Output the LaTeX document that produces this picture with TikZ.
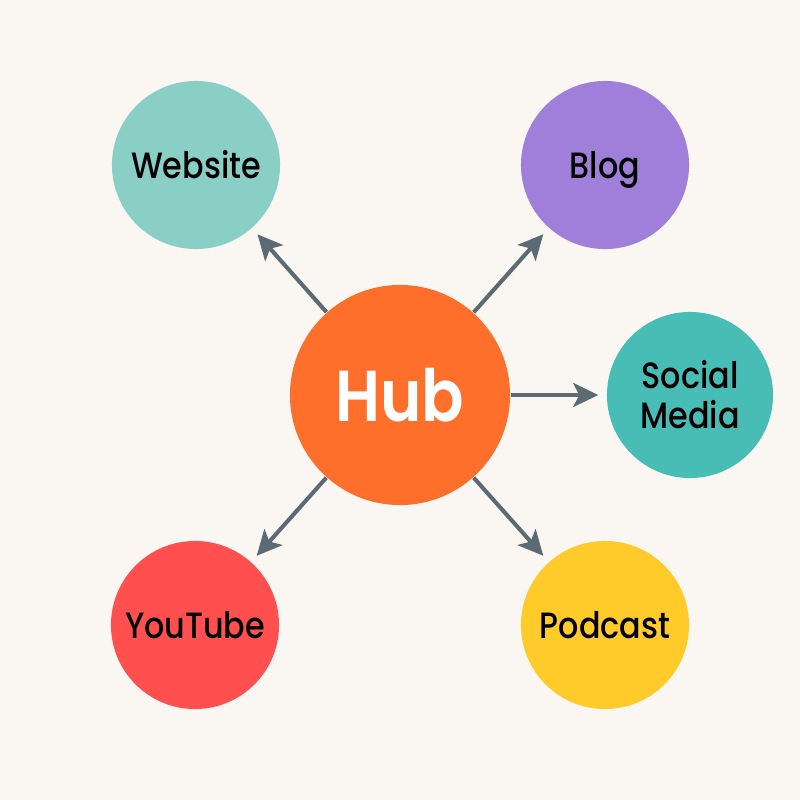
\documentclass[tikz,border=0pt]{standalone}
\usepackage{fontspec}
\setmainfont{Poppins}[UprightFont={* Medium}, BoldFont={* SemiBold}, FakeStretch=0.87]
\usetikzlibrary{arrows.meta}
\definecolor{paper}{HTML}{FAF7F2}
\definecolor{hubc}{HTML}{FF6F2C}
\definecolor{webc}{HTML}{8ACFC6}
\definecolor{blogc}{HTML}{A07FDB}
\definecolor{socialc}{HTML}{48BDB5}
\definecolor{tubec}{HTML}{FF4F4F}
\definecolor{podc}{HTML}{FFCB2B}
\definecolor{arrowc}{HTML}{5C6A74}
\begin{document}
\begin{tikzpicture}[x=0.01cm, y=-0.01cm,
  spoke/.style={circle, inner sep=0pt, minimum size=1.68cm, font=\fontsize{10.4}{11.4}\selectfont, align=center, text=black},
  link/.style={draw=arrowc, line width=1.15pt, shorten >=0.08cm, -{Stealth[length=2.5mm, width=2.4mm, inset=0.6mm]}}]
  \fill[paper] (0,0) rectangle (800,800);
  \useasboundingbox (0,0) rectangle (800,800);
  % outer nodes
  \node[spoke, fill=webc] (web) at (196,165) {Website};
  \node[spoke, fill=blogc, text depth=0pt] (blog) at (605,165) {Blog};
  \node[spoke, fill=socialc, minimum size=1.66cm] (social) at (690,395) {Social\\Media};
  \node[spoke, fill=tubec] (tube) at (195,625) {YouTube};
  \node[spoke, fill=podc] (pod) at (605,625) {Podcast};
  % hub
  \node[circle, fill=hubc, inner sep=0pt, minimum size=2.2cm, text=white,
        font=\bfseries\fontsize{20.5}{22}\selectfont] (hub) at (400,395) {Hub};
  % connectors
  \draw[link] (hub) -- (web);
  \draw[link] (hub) -- (blog);
  \draw[link] (hub) -- (social);
  \draw[link] (hub) -- (tube);
  \draw[link] (hub) -- (pod);
\end{tikzpicture}
\end{document}
